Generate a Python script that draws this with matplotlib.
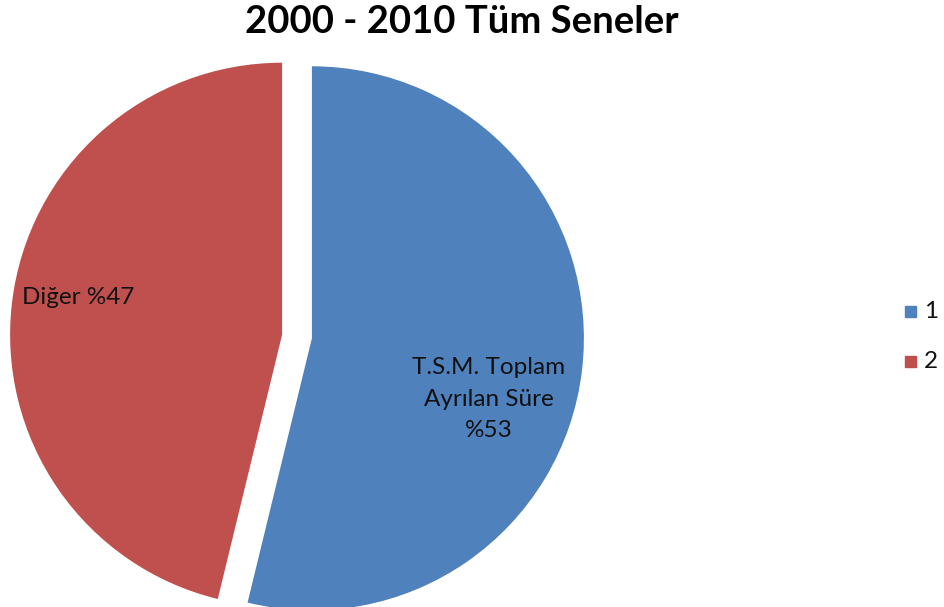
import matplotlib
matplotlib.use('Agg')
import matplotlib.pyplot as plt
from matplotlib.patches import Rectangle

plt.rcParams['font.family'] = ['Lato', 'DejaVu Sans']

# veriler
kategoriler = ['1', '2']
degerler = [53.8, 46.2]
etiketler = ['T.S.M. Toplam\nAyrılan Süre\n%53', 'Diğer %47']
renkler = ['#4F81BD', '#C0504D']
baslik = '2000 - 2010 Tüm Seneler'

W, H = 944, 607
fig = plt.figure(figsize=(W / 100, H / 100), dpi=100)
ax = fig.add_axes([0, 0, 1, 1])

# piksel koordinatlarında çalış (y aşağıdan yukarı)
merkez = (297, H - 336.5)
yaricap = 272
wedges, _ = ax.pie(degerler, colors=renkler, startangle=90, counterclock=False,
                   radius=yaricap, center=merkez, explode=[15, 15],
                   wedgeprops=dict(linewidth=0))
ax.set_xlim(0, W)
ax.set_ylim(0, H)
ax.set_aspect('auto')
ax.axis('off')

# dilim etiketleri
ax.text(489, H - 399, etiketler[0], ha='center', va='center',
        fontsize=17.5, linespacing=1.6, color='#111111')
ax.text(22, H - 298, etiketler[1], ha='left', va='center',
        fontsize=17.5, color='#111111')

# başlık
fig.text(462 / W, 1 - 22 / H, baslik, ha='center', va='center',
         fontsize=27.5, fontweight='bold')

# lejant
for i, (k, r) in enumerate(zip(kategoriler, renkler)):
    y = H - 311 - i * 50
    ax.add_patch(Rectangle((905, y - 6), 11, 11, color=r, transform=ax.transData))
    ax.text(924, y, k, ha='left', va='center', fontsize=17.5, color='#111111')

fig.savefig('out.png', dpi=100)
